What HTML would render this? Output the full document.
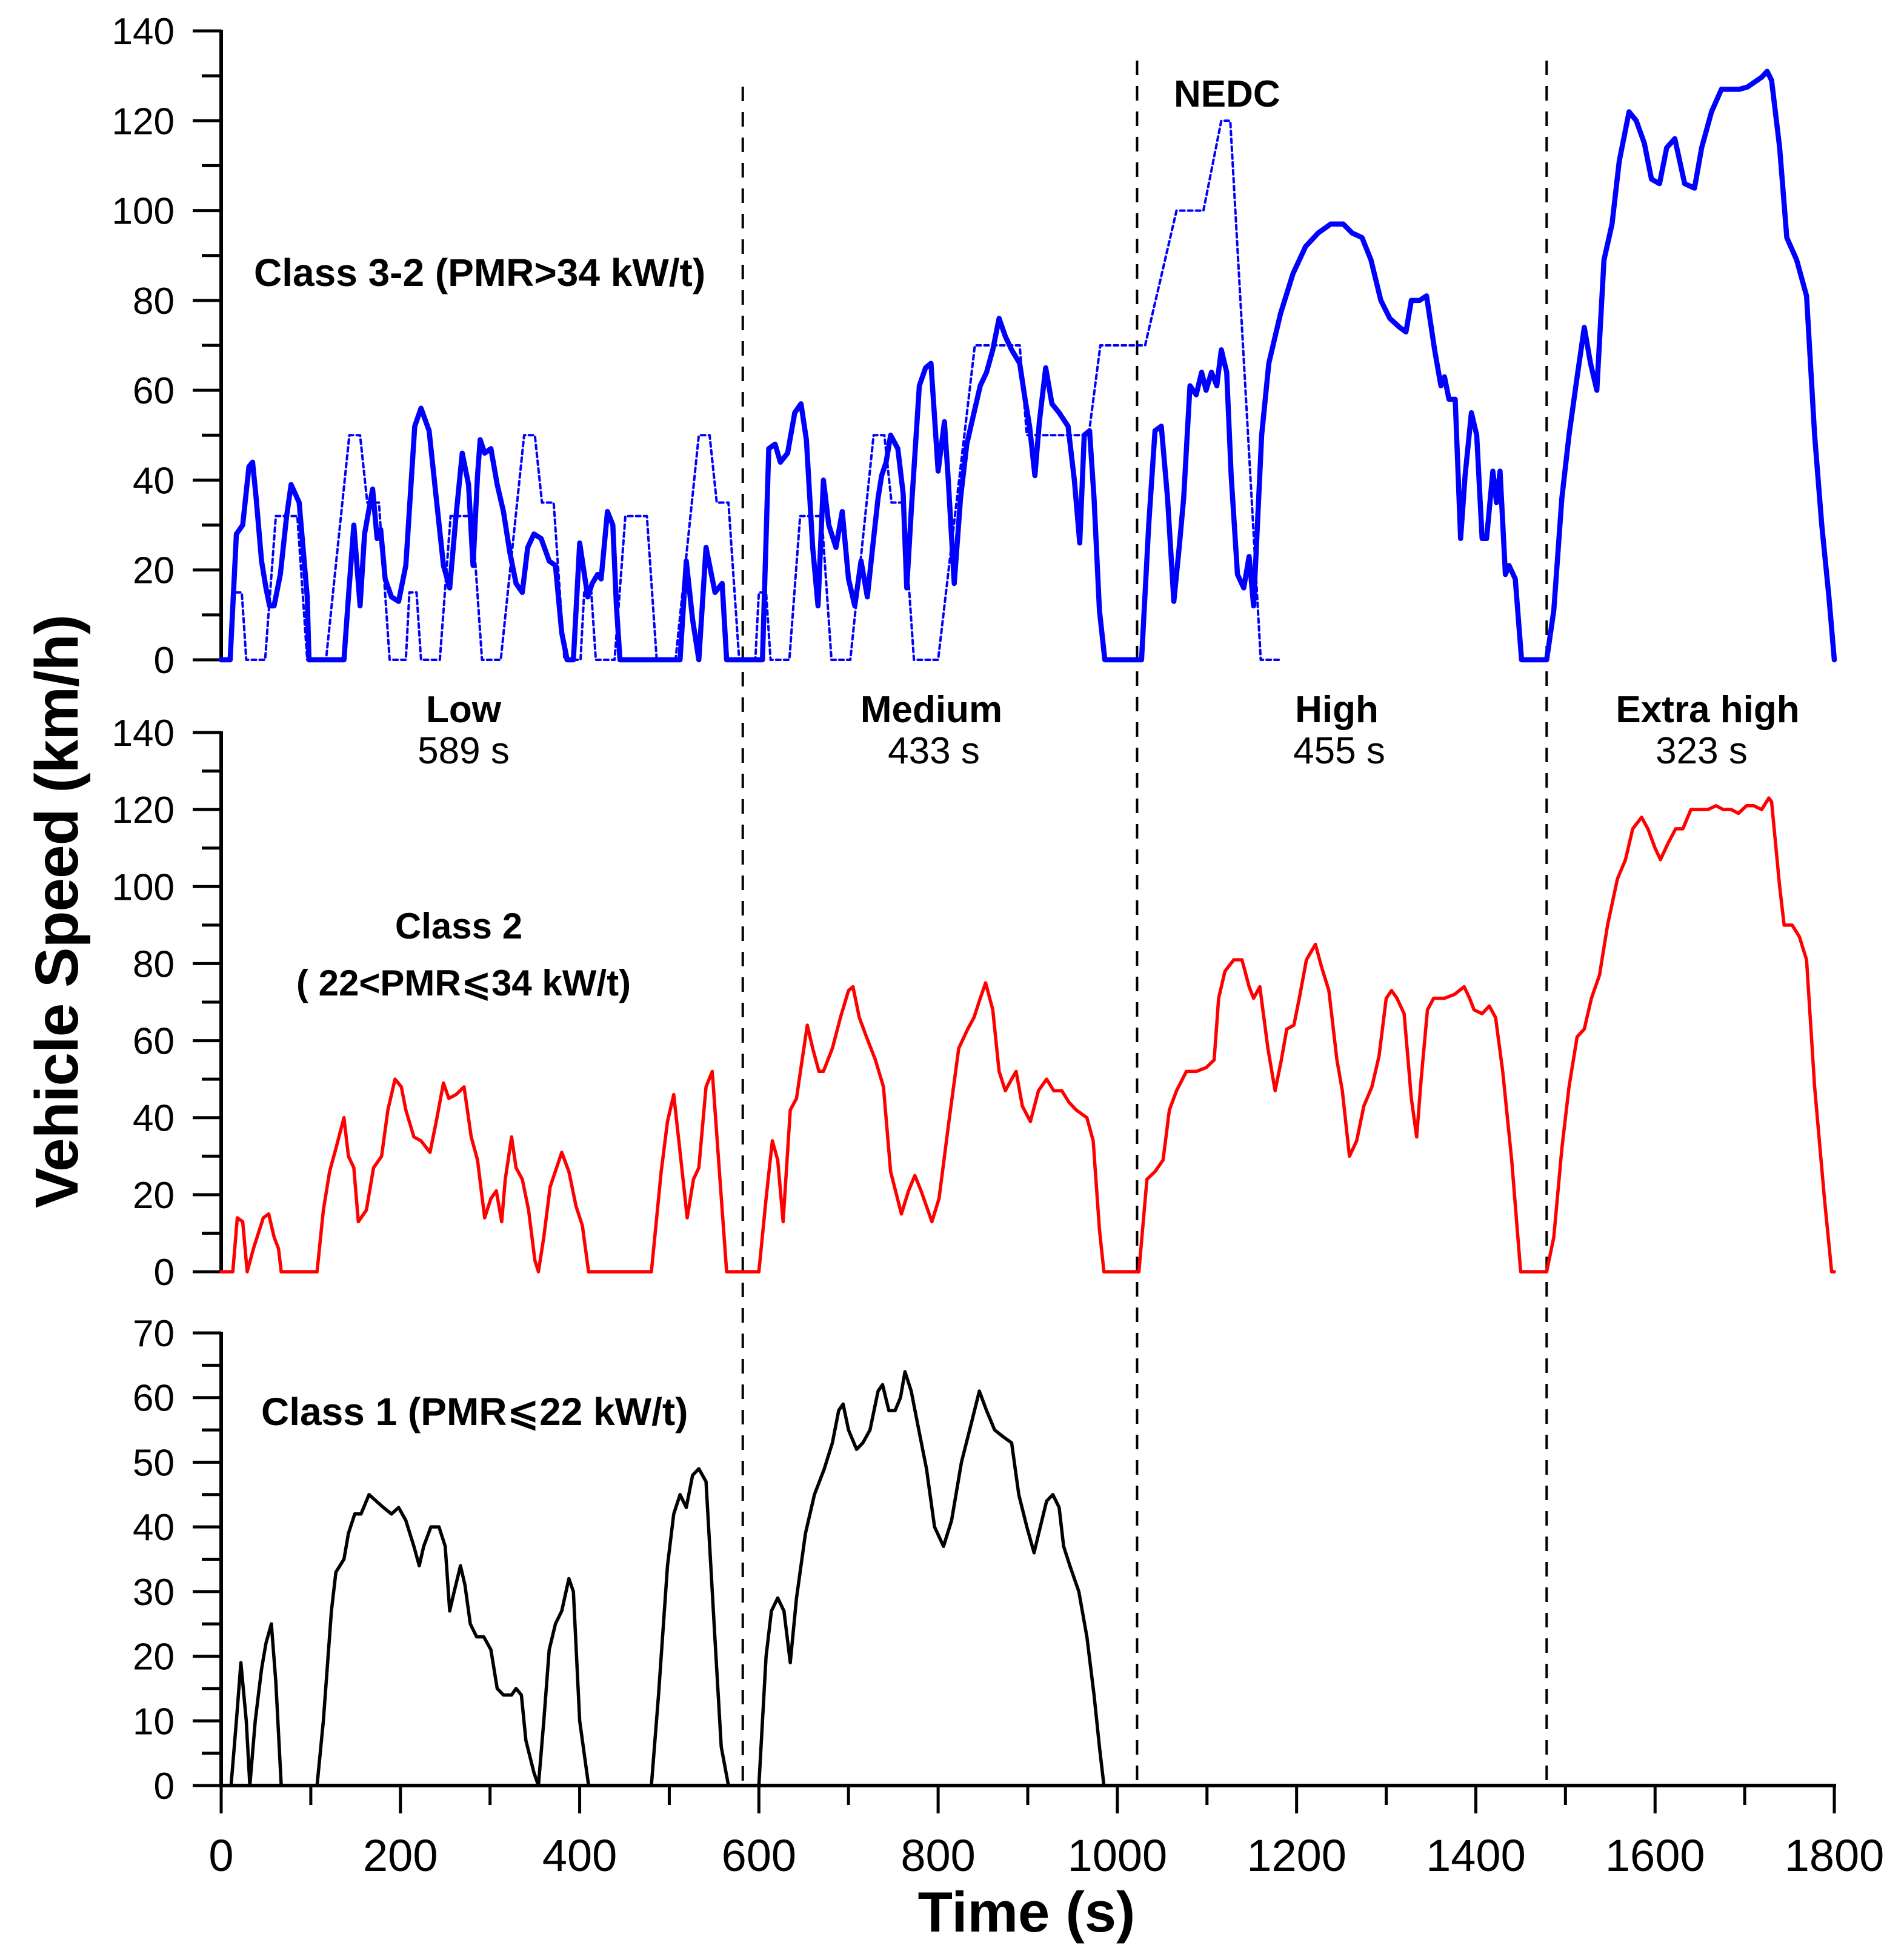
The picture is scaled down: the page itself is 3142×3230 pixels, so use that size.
<!DOCTYPE html>
<html><head><meta charset="utf-8"><style>
html,body{margin:0;padding:0;background:#fff}
svg{display:block}
text{font-family:"Liberation Sans","DejaVu Sans",sans-serif;fill:#000}
</style></head><body>
<svg id="chart" width="3142" height="3230" viewBox="0 0 3142 3230" xmlns="http://www.w3.org/2000/svg">
<g id="axes"></g>
<g id="series"></g>
<g id="labels">
<text x="419" y="472" font-size="64" font-weight="bold">Class 3-2 (PMR&gt;34 kW/t)</text>
<text x="1937" y="176" font-size="62" font-weight="bold">NEDC</text>
<text x="765" y="1192" font-size="62" font-weight="bold" text-anchor="middle">Low</text>
<text x="765" y="1260" font-size="62" text-anchor="middle">589 s</text>
<text x="1537" y="1192" font-size="62" font-weight="bold" text-anchor="middle">Medium</text>
<text x="1541" y="1260" font-size="62" text-anchor="middle">433 s</text>
<text x="2206" y="1192" font-size="62" font-weight="bold" text-anchor="middle">High</text>
<text x="2210" y="1260" font-size="62" text-anchor="middle">455 s</text>
<text x="2818" y="1192" font-size="62" font-weight="bold" text-anchor="middle">Extra high</text>
<text x="2808" y="1260" font-size="62" text-anchor="middle">323 s</text>
<text x="757" y="1549" font-size="60" font-weight="bold" text-anchor="middle">Class 2</text>
<text x="765" y="1643" font-size="60" font-weight="bold" text-anchor="middle">( 22&lt;PMR⩽34 kW/t)</text>
<text x="431" y="2352" font-size="64" font-weight="bold">Class 1 (PMR⩽22 kW/t)</text>
<text x="1694" y="3188" font-size="94" font-weight="bold" text-anchor="middle">Time (s)</text>
<text x="0" y="0" font-size="100" font-weight="bold" text-anchor="middle" textLength="980" transform="translate(128,1504) rotate(-90)">Vehicle Speed (km/h)</text>
</g>
</svg>
<script>
// ---- data ----
const class32T = [0,10,17,24,31,35,39,45,50,54,59,66,73,78,87,96,98,137,142,148,155,160,169,174,178,183,190,198,206,216,223,232,240,248,255,262,269,276,281,286,289,294,301,308,315,322,329,336,342,349,357,366,373,380,386,393,400,409,414,420,424,431,437,441,445,512,519,526,533,541,551,559,564,604,611,618,624,632,640,647,653,660,666,672,678,686,693,700,707,714,721,728,733,737,742,747,755,761,765,770,779,786,792,800,807,811,818,825,832,840,847,854,861,868,875,882,891,897,902,908,913,920,927,935,945,952,958,963,969,974,980,986,1027,1035,1042,1049,1056,1063,1069,1074,1081,1088,1094,1099,1105,1111,1116,1122,1127,1134,1141,1147,1152,1161,1169,1182,1196,1210,1224,1238,1252,1262,1273,1283,1294,1304,1315,1322,1328,1337,1345,1354,1361,1365,1370,1377,1383,1388,1395,1401,1407,1412,1419,1423,1427,1433,1437,1444,1451,1479,1487,1496,1504,1513,1521,1528,1535,1543,1552,1560,1571,1579,1588,1596,1605,1613,1622,1633,1644,1652,1663,1674,1686,1694,1703,1711,1719,1725,1730,1739,1747,1758,1769,1778,1786,1794,1800];
const class32V = [0,0,28,30,43,44,36,22,16,12,12,19,32,39,35,14,0,0,14,30,12,28,38,27,29,18,14,13,21,52,56,51,36,21,16,32,46,39,21,41,49,46,47,39,33,24,17,15,25,28,27,22,21,6,0,0,26,14,17,19,18,33,30,12,0,0,22,9,0,25,15,17,0,0,47,48,44,46,55,57,49,25,12,40,30,25,33,18,12,22,14,27,36,41,44,50,47,37,16,33,61,65,66,42,53,41,17,36,48,55,61,64,69,76,72,69,66,58,52,41,53,65,57,55,52,40,26,50,51,36,11,0,0,30,51,52,36,13,25,36,61,59,64,60,64,61,69,64,41,19,16,23,12,50,66,77,86,92,95,97,97,95,94,89,80,76,74,73,80,80,81,69,61,63,58,58,27,41,55,50,27,27,42,35,42,19,21,18,0,0,11,36,50,63,74,66,60,89,97,111,122,120,115,107,106,114,116,106,105,114,122,127,127,127,127.5,128.6,129.7,131,129,114,94,89,81,50,30,14,0];
const nedcT = [0,11,15,23,28,49,61,85,96,117,143,155,163,176,188,195,206,210,218,223,244,256,280,291,312,338,350,358,371,383,390,401,405,413,418,439,451,475,486,507,533,545,553,566,578,585,596,600,608,613,634,646,670,681,702,728,740,748,761,773,780,800,841,891,899,968,981,1031,1066,1096,1116,1126,1160,1180];
const nedcV = [0,0,15,15,0,0,32,32,0,0,50,50,35,35,0,0,0,15,15,0,0,32,32,0,0,50,50,35,35,0,0,0,15,15,0,0,32,32,0,0,50,50,35,35,0,0,0,15,15,0,0,32,32,0,0,50,50,35,35,0,0,0,70,70,50,50,70,70,100,100,120,120,0,0];
const class2T = [0,13,18,24,29,36,47,53,59,64,67,107,114,121,128,137,142,148,153,162,170,179,186,194,201,206,215,223,233,240,248,254,262,271,279,286,294,301,307,313,317,324,329,336,343,350,354,360,367,380,388,396,403,410,480,491,498,505,513,520,527,533,541,548,555,564,600,608,615,621,627,635,642,647,654,660,667,672,682,691,700,705,712,720,730,739,747,759,767,774,781,793,801,812,823,833,840,847,853,861,868,875,882,887,894,903,912,921,929,938,946,954,966,973,980,985,1024,1033,1042,1051,1058,1066,1077,1088,1099,1108,1113,1120,1130,1139,1147,1152,1159,1168,1176,1183,1189,1197,1203,1211,1221,1228,1236,1245,1251,1259,1267,1275,1284,1292,1300,1306,1312,1320,1328,1334,1339,1346,1353,1365,1376,1387,1393,1398,1407,1415,1422,1430,1440,1450,1479,1487,1496,1504,1513,1521,1529,1538,1547,1558,1567,1575,1585,1592,1600,1606,1614,1623,1631,1640,1648,1659,1668,1676,1685,1693,1702,1710,1719,1727,1730,1739,1744,1753,1761,1769,1778,1789,1797,1800];
const class2V = [0,0,14,13,0,6,14,15,9,6,0,0,16,26,32,40,30,27,13,16,27,30,42,50,48,42,35,34,31,39,49,45,46,48,35,29,14,19,21,13,24,35,27,24,16,3,0,9,22,31,26,17,12,0,0,26,39,46,29,14,24,27,48,52,29,0,0,19,34,29,13,42,45,53,64,58,52,52,58,66,73,74,66,61,55,48,26,15,21,25,21,13,19,39,58,63,66,71,75,68,52,47,50,52,43,39,47,50,47,47,44,42,40,34,11,0,0,24,26,29,42,47,52,52,53,55,71,78,81,81,74,71,74,58,47,55,63,64,71,81,85,79,73,55,47,30,34,43,48,56,71,73,71,67,45,35,50,68,71,71,72,74,71,68,67,69,66,52,29,0,0,9,32,48,61,63,71,77,90,102,107,115,118,115,110,107,111,115,115,120,120,120,121,120,120,119,121,121,120,123,122,100,90,90,87,81,48,19,0,0];
const class1T = [0,11,17,22,28,32,38,45,50,56,61,67,107,114,123,128,137,142,149,156,165,173,181,190,198,206,215,221,226,234,243,250,255,260,267,272,278,285,293,301,308,315,324,329,335,340,349,354,360,366,373,380,388,393,400,410,480,488,498,505,512,519,526,533,541,550,558,566,600,608,614,621,628,635,642,652,662,673,682,689,694,700,709,716,724,733,738,745,752,758,763,770,777,787,796,806,815,826,837,846,854,863,872,882,890,899,907,914,921,928,935,940,947,957,966,974,980,985,1022];
const class1V = [0,0,10,19,10,0,10,18,22,25,16,0,0,10,27,33,35,39,42,42,45,44,43,42,43,41,37,34,37,40,40,37,27,30,34,31,25,23,23,21,15,14,14,15,14,7,2,0,10,21,25,27,32,30,10,0,0,14,34,42,45,43,48,49,47,25,6,0,0,20,27,29,27,19,29,39,45,49,53,58,59,55,52,53,55,61,62,58,58,60,64,61,56,49,40,37,41,50,56,61,58,55,54,53,45,40,36,40,44,45,43,37,34,30,23,14,6,0,0];
const phaseBoundaries = [582,1022,1479];
const xTicks = [0,200,400,600,800,1000,1200,1400,1600,1800];
const topTicks = [0,20,40,60,80,100,120,140];
const midTicks = [0,20,40,60,80,100,120,140];
const botTicks = [0,10,20,30,40,50,60,70];

// ---- scales ----
const X0 = 365, X1 = 3027;
const xs = t => X0 + (t / 1800) * (X1 - X0);
const mk = (y0, yTop, vmax) => v => y0 - (v / vmax) * (y0 - yTop);
const yTop = mk(1089, 51, 140);
const yMid = mk(2099, 1209, 140);
const yBot = mk(2947, 2200, 70);
const NS = "http://www.w3.org/2000/svg";
const axes = document.getElementById('axes');
const series = document.getElementById('series');
function el(tag, attrs, parent) {
  const e = document.createElementNS(NS, tag);
  for (const k in attrs) e.setAttribute(k, attrs[k]);
  parent.appendChild(e);
  return e;
}
function line(x1, y1, x2, y2, w, parent) {
  return el('line', {x1: x1, y1: y1, x2: x2, y2: y2, stroke: '#000', 'stroke-width': w}, parent);
}

function yAxis(ys, ticks, step, vmax, name) {
  const g = el('g', {}, axes);
  
  
  const ax = line(X0, ys(0) + 2, X0, ys(vmax) - 2, 6, g);
  
  
  for (let v = 0; v <= vmax; v += step / 2) {
    const major = ticks.includes(v);
    const tk = line(X0 - (major ? 47 : 32), ys(v), X0, ys(v), 5, g);
    
    
  }
  ticks.forEach(v => {
    const t = el('text', {x: 288, y: ys(v) + 22, 'font-size': 62, 'text-anchor': 'end'}, g);
    
    
    t.textContent = v;
  });
}
yAxis(yTop, topTicks, 20, 140, 'y-axis-class-3-2');
yAxis(yMid, midTicks, 20, 140, 'y-axis-class-2');
yAxis(yBot, botTicks, 10, 70, 'y-axis-class-1');

const xg = el('g', {}, axes);


const xl = line(X0 - 3, 2947, X1 + 3, 2947, 6, xg);


for (let t = 0; t <= 1800; t += 100) {
  const major = xTicks.includes(t);
  const tk = line(xs(t), 2947, xs(t), 2947 + (major ? 46 : 32), 5, xg);
  
  
}
xTicks.forEach(t => {
  const tx = el('text', {x: xs(t), y: 3088, 'font-size': 74, 'text-anchor': 'middle'}, xg);
  
  
  tx.textContent = t;
});

phaseBoundaries.forEach((t, i) => {
  const d = line(xs(t), i === 0 ? 143 : 100, xs(t), 2947, 4, axes);
  d.setAttribute('stroke-dasharray', '24 18');
  
  
});

function path(T, V, ys, color, w, dash, name) {
  let d = '';
  for (let i = 0; i < T.length; i++) d += (i ? 'L' : 'M') + xs(T[i]).toFixed(1) + ',' + ys(V[i]).toFixed(1);
  const p = el('path', {d: d, fill: 'none', stroke: color, 'stroke-width': w, 'stroke-linejoin': 'round', 'stroke-linecap': 'round'}, series);
  if (dash) p.setAttribute('stroke-dasharray', dash);
  
  
}
path(nedcT, nedcV, yTop, '#0000ff', 4, '7 6', 'nedc-line');
path(class32T, class32V, yTop, '#0000ff', 8.5, null, 'class-3-2-line');
path(class2T, class2V, yMid, '#ff0000', 5.5, null, 'class-2-line');
path(class1T, class1V, yBot, '#000000', 5.5, null, 'class-1-line');
</script>
</body></html>
